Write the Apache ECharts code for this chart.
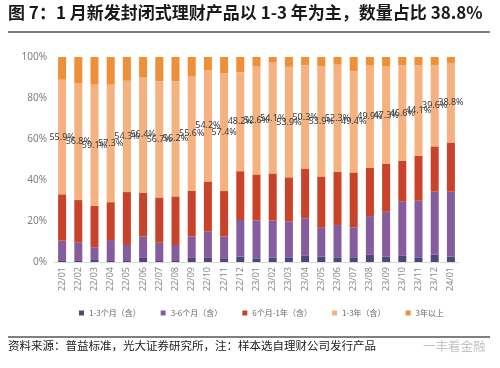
<!DOCTYPE html>
<html>
<head>
<meta charset="utf-8">
<script src="https://cdn.jsdelivr.net/npm/echarts@6/dist/echarts.min.js"></script>
<style>html,body{margin:0;padding:0;background:#fff}#c{width:500px;height:368px}</style>
</head>
<body>
<div id="c"></div>
<script>
const categories = ['22/01','22/02','22/03','22/04','22/05','22/06','22/07','22/08','22/09','22/10','22/11','22/12','23/01','23/02','23/03','23/04','23/05','23/06','23/07','23/08','23/09','23/10','23/11','23/12','24/01'];
const seriesNames = ['1-3个月（含）','3-6个月（含）','6个月-1年（含）','1-3年（含）','3年以上'];
const m1to3 = [0.5,0.5,1.0,0.5,0.5,2.0,0.5,0.5,2.0,2.0,1.5,2.7,1.8,2.2,2.0,3.0,2.7,2.3,2.3,3.5,2.7,3.0,2.0,3.7,2.7];
const m3to6 = [9.9,8.9,6.2,10.2,7.8,10.4,8.9,7.8,10.4,12.8,10.9,17.8,18.4,18.0,17.7,18.3,14.0,15.7,14.6,18.9,21.8,26.4,27.9,30.6,31.6];
const m6to12 = [22.6,20.8,20.2,18.5,25.8,21.4,22.1,23.7,22.4,24.5,22.2,23.8,22.5,23.0,21.6,24.3,25.0,26.0,26.8,23.5,23.5,20.0,21.9,22.1,24.0];
const y1to3 = [55.9,56.8,59.1,57.3,54.3,56.4,56.7,56.2,55.6,54.2,57.4,48.2,52.6,54.1,53.9,50.3,53.9,52.3,49.4,49.9,47.3,46.6,44.1,39.6,38.8];
const y3plus = [11.1,13.0,13.5,13.5,11.6,9.8,11.8,11.8,9.6,6.5,8.0,7.5,4.7,2.7,4.8,4.1,4.4,3.7,6.9,4.2,4.7,4.0,4.1,4.0,2.9];
const yTicks = ['0%','20%','40%','60%','80%','100%'];

const colors = ['#4e4878','#855c9e','#c8432a','#f5b17f','#ef8f38'];
const dataSets = [m1to3, m3to6, m6to12, y1to3, y3plus];

const chart = echarts.init(document.getElementById('c'), null, {renderer:'canvas'});
const series = dataSets.map((d, i) => ({
  name: seriesNames[i],
  type: 'bar',
  stack: 'total',
  barWidth: 8,
  data: d,
  itemStyle: {color: colors[i]},
  label: i === 3 ? {
    show: true,
    position: 'inside',
    formatter: p => p.value.toFixed(1) + '%',
    fontSize: 9,
    color: '#3a3a3a',
    fontFamily: 'Noto Sans'
  } : {show: false}
}));

chart.setOption({
  animation: false,
  textStyle: {fontFamily: 'Noto Sans CJK SC'},
  grid: {left: 54, right: 41, top: 57, bottom: 106},
  xAxis: {
    type: 'category',
    data: categories,
    axisTick: {show: false},
    axisLine: {show: true, lineStyle: {color: '#d9d9d9'}},
    axisLabel: {rotate: 90, fontSize: 9, color: '#8a8a8a', margin: 5, interval: 0, fontFamily: 'Noto Sans'}
  },
  yAxis: {
    type: 'value',
    min: 0, max: 100, interval: 20,
    axisLabel: {fontSize: 10, color: '#808080', margin: 7, fontFamily: 'Noto Sans',
      formatter: v => yTicks[Math.round(v / 20)]},
    splitLine: {show: false},
    axisLine: {show: false},
    axisTick: {show: false}
  },
  legend: {
    data: seriesNames,
    left: 74, top: 304,
    icon: 'rect', itemWidth: 5, itemHeight: 5, itemGap: 20,
    textStyle: {fontSize: 8, color: '#666666', fontFamily: 'Noto Sans CJK SC'}
  },
  series: series,
  graphic: [
    {type: 'text', left: 8, top: 4, style: {text: '图 7：1 月新发封闭式理财产品以 1-3 年为主，数量占比 38.8%', font: 'bold 17px "Noto Sans CJK SC"', fill: '#1a1a1a'}},
    {type: 'line', shape: {x1: 8, y1: 32, x2: 490, y2: 32}, style: {stroke: '#000', lineWidth: 1}},
    {type: 'line', shape: {x1: 8, y1: 337, x2: 490, y2: 337}, style: {stroke: '#000', lineWidth: 1}},
    {type: 'text', left: 8, top: 340, style: {text: '资料来源：普益标准，光大证券研究所，注：样本选自理财公司发行产品', font: '11.5px "Noto Sans CJK SC"', fill: '#1a1a1a'}},
    {type: 'text', left: 423, top: 340, style: {text: '一丰看金融', font: '12.5px "Noto Sans CJK SC"', fill: '#c4c4c4'}}
  ]
});
</script>
</body>
</html>
